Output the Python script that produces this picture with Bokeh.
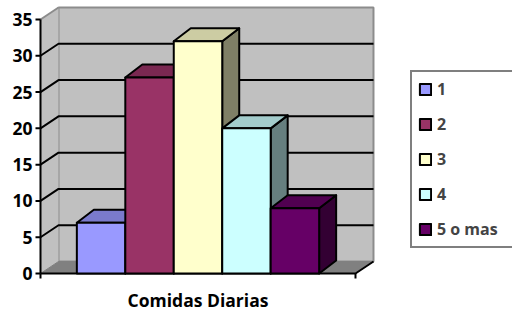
from bokeh.plotting import figure
from bokeh.models import Range1d, Legend, LegendItem
from bokeh.core.properties import value
from bokeh.embed import file_html
from bokeh.resources import INLINE

# ---- data ----
categories = ["1", "2", "3", "4", "5 o mas"]
counts = [7, 27, 32, 20, 9]
y_ticks = [0, 5, 10, 15, 20, 25, 30, 35]
y_tick_labels = ["0", "5", "10", "15", "20", "25", "30", "35"]
axis_title = "Comidas Diarias"
front_colors = ["#9999FF", "#993366", "#FFFFCC", "#CCFFFF", "#660066"]

# ---- layout ----
W, H = 512, 314
PX_X = 48.46      # px per category unit
PX_Y = 7.257      # px per value unit
OX, OY = 40, 273  # canvas px of the data origin (from left, from top)
n = len(categories)
gap = 0.75
floor_len = n + 2 * gap
y_max = y_ticks[-1]
wdx, wdy = 18 / PX_X, 12 / PX_Y
bdx, bdy = 17 / PX_X, 13 / PX_Y
FONT = "Open Sans"


def shade(hx, f):
    h = hx.lstrip("#")
    r, g, b = (int(h[k:k + 2], 16) for k in (0, 2, 4))
    return "#%02x%02x%02x" % (int(r * f), int(g * f), int(b * f))


p = figure(width=W, height=H,
           x_range=Range1d(-OX / PX_X, (W - OX) / PX_X),
           y_range=Range1d(-(H - OY) / PX_Y, OY / PX_Y),
           output_backend="svg", toolbar_location=None, min_border=0)
p.axis.visible = False
p.grid.visible = False
p.outline_line_color = None
p.background_fill_color = "white"
p.border_fill_color = "white"

# walls
p.patch([wdx, floor_len + wdx, floor_len + wdx, wdx],
        [wdy, wdy, y_max + wdy, y_max + wdy],
        fill_color="#C0C0C0", line_color="#8C8C8C", line_width=2)
p.patch([0, wdx, wdx, 0], [0, wdy, y_max + wdy, y_max],
        fill_color="#C0C0C0", line_color=None)
p.line([0, wdx], [y_max, y_max + wdy], line_color="#8C8C8C", line_width=2)
p.patch([0, floor_len, floor_len + wdx, wdx], [0, 0, wdy, wdy],
        fill_color="#808080", line_color="#808080", line_width=1)

# gridlines (side wall diagonal + back wall)
gx, gy = [], []
for v in y_ticks[1:-1]:
    gx.append([0, wdx, floor_len + wdx])
    gy.append([v, v + wdy, v + wdy])
p.multi_line(gx, gy, line_color="black", line_width=2)

# axes
p.line([0, 0], [0, y_max], line_color="black", line_width=2)
p.segment(x0=[0] * len(y_ticks), y0=y_ticks,
          x1=[-5 / PX_X] * len(y_ticks), y1=y_ticks,
          line_color="black", line_width=2)
p.line([0, floor_len, floor_len + wdx], [0, 0, wdy], line_color="black", line_width=2)
p.segment(x0=[0, floor_len], y0=[0, 0], x1=[0, floor_len],
          y1=[-5 / PX_Y, -5 / PX_Y], line_color="black", line_width=2)

# bars: sides and tops
px, py, pc = [], [], []
for i, v in enumerate(counts):
    x0 = gap + i
    x1 = x0 + 1
    px.append([x1, x1 + bdx, x1 + bdx, x1])
    py.append([0, bdy, v + bdy, v])
    pc.append(shade(front_colors[i], 0.5))
    px.append([x0, x1, x1 + bdx, x0 + bdx])
    py.append([v, v, v + bdy, v + bdy])
    pc.append(shade(front_colors[i], 0.8))
p.patches(px, py, fill_color=pc, line_color="black", line_width=2,
          line_join="round")

# bars: fronts
lefts = [gap + i for i in range(n)]
rights = [gap + i + 1 for i in range(n)]
front = p.quad(left=lefts, right=rights, bottom=[0] * n, top=counts,
               fill_color=front_colors, line_color="black", line_width=2,
               line_join="round")

# tick labels
p.text(x=[0] * len(y_ticks), y=y_ticks, text=y_tick_labels, x_offset=-8,
       text_align="right", text_baseline="middle",
       text_font=value(FONT), text_font_style="bold", text_font_size="17.5px",
       text_color="black")

# axis title
p.text(x=[floor_len / 2], y=[-26 / PX_Y], text=[axis_title],
       text_align="center", text_baseline="middle",
       text_font=value(FONT), text_font_style="bold", text_font_size="17.5px",
       text_color="black")

# legend
items = [LegendItem(label=c, renderers=[front], index=i)
         for i, c in enumerate(categories)]
legend = Legend(items=items, location=(410, 66),
                glyph_width=14, glyph_height=14, label_standoff=5,
                label_height=20, label_width=69, spacing=13, padding=6, margin=0,
                label_text_font=FONT, label_text_font_style="bold",
                label_text_font_size="16px",
                border_line_color="black", border_line_width=2,
                background_fill_color="white", background_fill_alpha=1)
p.add_layout(legend)

open("out.html", "w").write(file_html(p, INLINE))
